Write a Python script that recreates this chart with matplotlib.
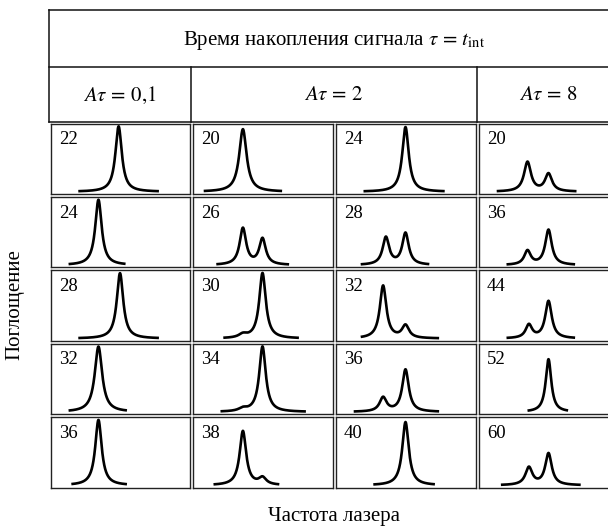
import numpy as np
import matplotlib
matplotlib.use('Agg')
import matplotlib.pyplot as plt

plt.rcParams['font.family'] = ['Liberation Serif', 'DejaVu Serif']
plt.rcParams['mathtext.fontset'] = 'stix'

# подписи кадров (по строкам, слева направо)
labels = [22, 20, 24, 20,
          24, 26, 28, 36,
          28, 30, 32, 44,
          32, 34, 36, 52,
          36, 38, 40, 60]

# положения пиков по частоте (усл. ед., 0..100 на кадр)
centers = [[49], [36], [50], [35, 50],
           [34.5], [36, 50], [36, 50], [35, 50],
           [50], [36, 50], [34, 50], [36, 50],
           [34.5], [36, 50], [34, 50], [50],
           [34.5], [36, 50], [50], [36, 50]]

# амплитуды пиков (доля высоты кадра)
heights = [[0.93], [0.89], [0.92], [0.42, 0.25],
           [0.93], [0.52, 0.37], [0.39, 0.45], [0.20, 0.50],
           [0.93], [0.05, 0.93], [0.75, 0.18], [0.19, 0.53],
           [0.93], [0.04, 0.93], [0.20, 0.60], [0.75],
           [0.93], [0.77, 0.10], [0.90], [0.25, 0.45]]

# полуширины пиков
widths = [[2.8], [3.2], [2.8], [3.0, 3.0],
          [2.8], [2.8, 2.8], [2.8, 2.8], [2.8, 2.8],
          [2.8], [3.5, 2.8], [2.8, 3.0], [2.8, 2.8],
          [3.2], [3.5, 2.8], [3.0, 2.8], [2.4],
          [2.8], [2.8, 3.2], [2.8], [3.0, 2.8]]

# диапазон развертки частоты в каждом кадре
spans = [(20, 78), (8, 64), (20, 78), (13, 70),
         (13, 54), (17, 69), (18, 67), (20, 69),
         (20, 78), (22, 76), (18, 74), (20, 69),
         (13, 55), (20, 81), (13, 74), (35, 64),
         (15, 55), (15, 62), (27, 71), (16, 73)]

baseline = 0.03

W, H = 608, 528
fig = plt.figure(figsize=(W / 100, H / 100), dpi=100)

# сетка таблицы в пикселях
col_edges = [49, 191, 334, 477, 620]
top, head1, head2 = 10, 67, 122
row_h = (489 - head2) / 5

bg = fig.add_axes([0, 0, 1, 1])
bg.set_xlim(0, W)
bg.set_ylim(H, 0)
bg.axis('off')
bg.patch.set_alpha(0)

lw = 1.1
for y in (top, head1, head2):
    bg.plot([col_edges[0], col_edges[-1]], [y, y], color='#111', lw=lw)
bg.plot([col_edges[0], col_edges[0]], [top, head2], color='#111', lw=lw)
for x in (col_edges[1], col_edges[3]):
    bg.plot([x, x], [head1, head2], color='#111', lw=lw)

fs = 15
bg.text(334, 40, r'Время накопления сигнала $\tau\, =\, t_{\rm int}$',
        ha='center', va='center', fontsize=fs)
bg.text(120, 95, r'$A\tau\, =\, 0{,}1$', ha='center', va='center', fontsize=fs)
bg.text(334, 95, r'$A\tau\, =\, 2$', ha='center', va='center', fontsize=fs)
bg.text(548, 95, r'$A\tau\, =\, 8$', ha='center', va='center', fontsize=fs)
bg.text(15, 305, 'Поглощение', rotation=90, ha='center', va='center', fontsize=fs)
bg.text(334, 516, 'Частота лазера', ha='center', va='center', fontsize=fs)

inset = 1.5
for k in range(20):
    i, j = divmod(k, 4)
    x0 = col_edges[j] + inset
    x1 = col_edges[j + 1] - inset
    y0 = head2 + i * row_h + inset
    y1 = head2 + (i + 1) * row_h - inset
    ax = fig.add_axes([x0 / W, 1 - y1 / H, (x1 - x0) / W, (y1 - y0) / H])
    ax.set_xlim(0, 100)
    ax.set_ylim(0, 1)
    ax.set_xticks([])
    ax.set_yticks([])
    for s in ax.spines.values():
        s.set_linewidth(1.0)
        s.set_color('#222')

    f = np.linspace(spans[k][0], spans[k][1], 500)
    a = np.full_like(f, baseline)
    for c, h, w in zip(centers[k], heights[k], widths[k]):
        a += h / (1 + ((f - c) / w) ** 2)
    ax.plot(f, a, color='black', lw=1.9, solid_capstyle='butt')
    ax.text(0.06, 0.77, str(labels[k]), transform=ax.transAxes,
            ha='left', va='center', fontsize=13.5)

fig.savefig('out.png', dpi=100)
